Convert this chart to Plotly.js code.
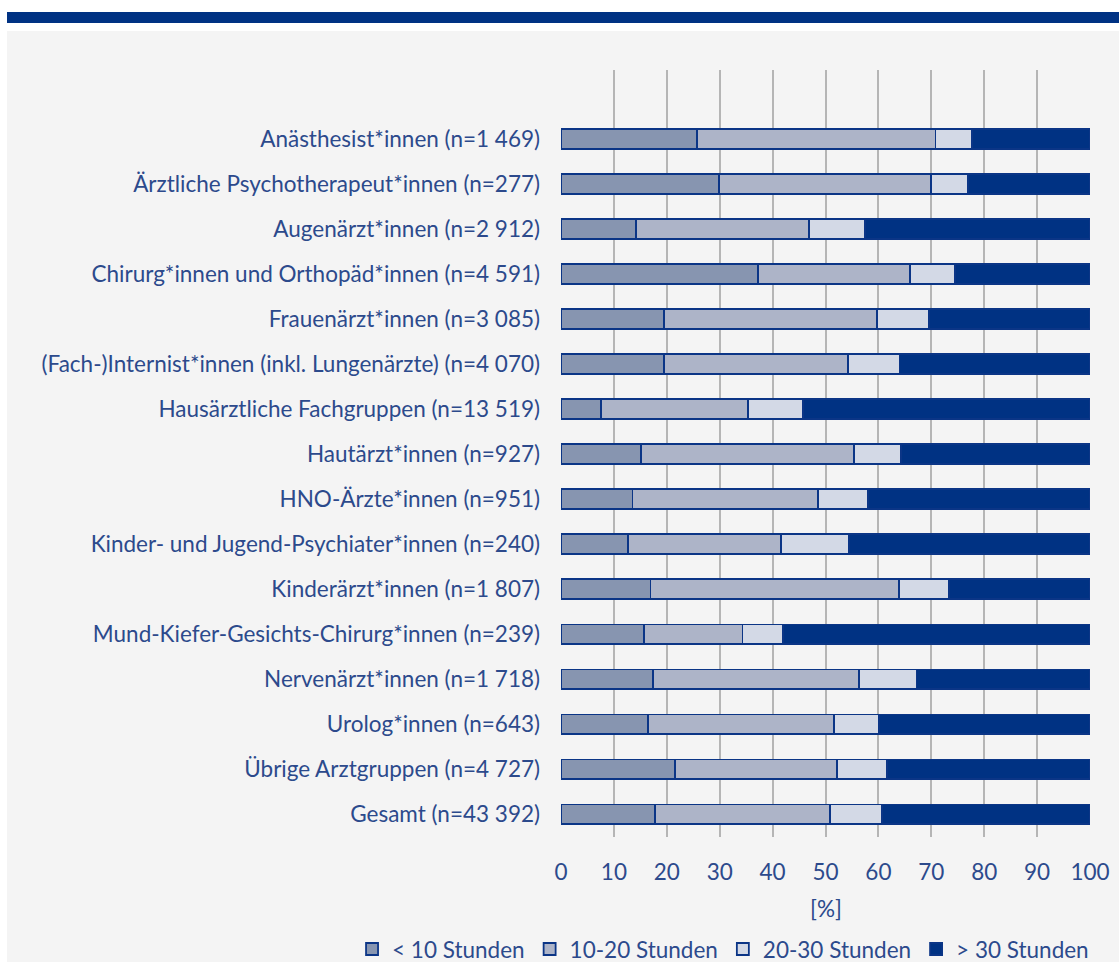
<!DOCTYPE html>
<html>
<head>
<meta charset="utf-8">
<script src="https://cdn.plot.ly/plotly-3.0.1.min.js"></script>
<style>
html,body{margin:0;padding:0;background:#ffffff;width:1119px;height:962px;overflow:hidden;}
#banner{position:absolute;left:7px;top:12px;width:1112px;height:11px;background:#003283;}
#chart{position:absolute;left:7px;top:31px;width:1112px;height:970px;}
</style>
</head>
<body>
<div id="banner"></div>
<div id="chart"></div>
<script>
const categories = [
  "Anästhesist*innen (n=1 469)",
  "Ärztliche Psychotherapeut*innen (n=277)",
  "Augenärzt*innen (n=2 912)",
  "Chirurg*innen und Orthopäd*innen (n=4 591)",
  "Frauenärzt*innen (n=3 085)",
  "(Fach-)Internist*innen (inkl. Lungenärzte) (n=4 070)",
  "Hausärztliche Fachgruppen (n=13 519)",
  "Hautärzt*innen (n=927)",
  "HNO-Ärzte*innen (n=951)",
  "Kinder- und Jugend-Psychiater*innen (n=240)",
  "Kinderärzt*innen (n=1 807)",
  "Mund-Kiefer-Gesichts-Chirurg*innen (n=239)",
  "Nervenärzt*innen (n=1 718)",
  "Urolog*innen (n=643)",
  "Übrige Arztgruppen (n=4 727)",
  "Gesamt (n=43 392)"
];
const seriesNames = ["< 10 Stunden", "10-20 Stunden", "20-30 Stunden", "> 30 Stunden"];
const under10    = [25.7, 29.9, 14.2, 37.2, 19.5, 19.5, 7.6, 15.1, 13.5, 12.7, 16.9, 15.7, 17.4, 16.4, 21.5, 17.8];
const from10to20 = [45.1, 40.0, 32.7, 28.7, 40.3, 34.7, 27.7, 40.3, 35.1, 28.9, 47.0, 18.6, 39.0, 35.2, 30.7, 33.0];
const from20to30 = [6.9, 7.0, 10.5, 8.6, 9.8, 9.8, 10.5, 8.8, 9.5, 12.8, 9.5, 7.7, 10.8, 8.5, 9.4, 9.9];
const over30     = [22.3, 23.1, 42.6, 25.5, 30.4, 36.0, 54.2, 35.8, 41.9, 45.6, 26.6, 58.0, 32.8, 39.9, 38.4, 39.3];
const xTicks = [0, 10, 20, 30, 40, 50, 60, 70, 80, 90, 100];
const xTitle = "[%]";

const fills = ["#8795b0", "#adb4c8", "#d3d9e6", "#003283"];
const lineColor = "#0b3586";
const textColor = "#2c4a8c";
const font = "Lato, 'Open Sans', sans-serif";
const fs = 22.5;

const values = [under10, from10to20, from20to30, over30];
const traces = values.map((v, i) => ({
  type: "bar",
  orientation: "h",
  name: seriesNames[i],
  x: v,
  y: categories,
  marker: {color: fills[i], line: {color: lineColor, width: 1.8}},
  hoverinfo: "x+name"
}));

const layout = {
  width: 1112,
  height: 970,
  barmode: "stack",
  bargap: 0.56,
  paper_bgcolor: "#f4f4f4",
  plot_bgcolor: "#f4f4f4",
  margin: {l: 554, r: 29, t: 39, b: 164},
  font: {family: font, size: fs, color: textColor},
  xaxis: {
    range: [0, 100],
    tickvals: xTicks,
    ticktext: xTicks.map(String),
    showgrid: true,
    gridcolor: "#b5b5b5",
    gridwidth: 2,
    zeroline: false,
    showline: false,
    ticks: "",
    ticklabelstandoff: 19,
    tickfont: {family: font, size: fs, color: textColor},
    automargin: false,
    fixedrange: true
  },
  yaxis: {
    type: "category",
    categoryorder: "array",
    categoryarray: categories,
    range: [15.5, -1.53],
    showgrid: false,
    zeroline: false,
    showline: false,
    ticks: "",
    ticklabelstandoff: 20,
    tickfont: {family: font, size: fs, color: textColor},
    automargin: false,
    fixedrange: true
  },
  annotations: [{
    text: xTitle,
    xref: "paper", yref: "paper",
    x: 0.5, y: -0.0927,
    xanchor: "center", yanchor: "middle",
    showarrow: false,
    font: {family: font, size: fs, color: textColor}
  }],
  showlegend: true,
  legend: {
    orientation: "h",
    xref: "paper",
    yref: "paper",
    x: -0.395,
    xanchor: "left",
    y: -0.1465,
    yanchor: "middle",
    traceorder: "normal",
    font: {family: font, size: fs, color: textColor},
    bgcolor: "rgba(0,0,0,0)"
  }
};

Plotly.newPlot("chart", traces, layout, {displayModeBar: false, staticPlot: true});
</script>
</body>
</html>
